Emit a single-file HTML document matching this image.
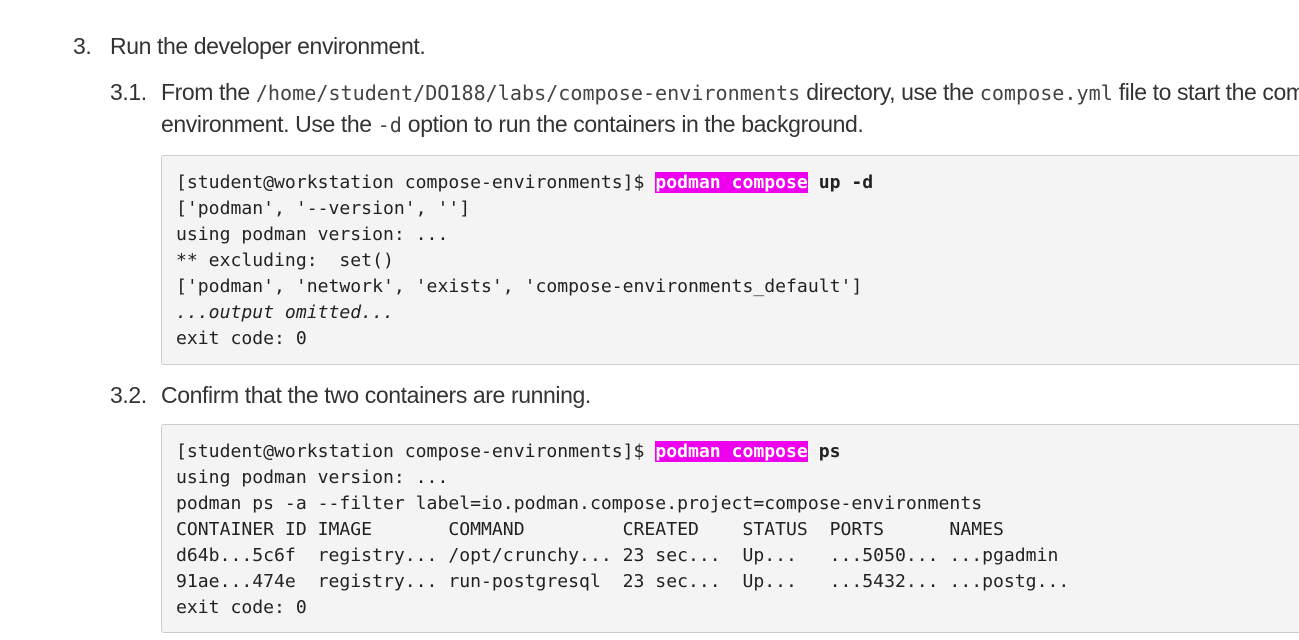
<!DOCTYPE html>
<html><head><meta charset="utf-8"><style>
html,body{margin:0;padding:0;width:1299px;height:640px;overflow:hidden;background:#fff;}
.p{position:absolute;font-family:"Liberation Sans",sans-serif;font-size:23px;color:#333;white-space:nowrap;line-height:32px;letter-spacing:-0.4px}
.p code{font-family:"DejaVu Sans Mono","Liberation Mono",monospace;font-size:20.1px;color:#444;letter-spacing:0}
.box{position:absolute;left:161px;width:1200px;background:#f4f4f4;border:1px solid #ccc;border-radius:3px;box-sizing:border-box;padding:14px 0 0 14px;}
pre{margin:0;font-family:"DejaVu Sans Mono","Liberation Mono",monospace;font-size:18.1px;line-height:26px;color:#222;}
.hl{background:#ee00ee;color:#fff;font-weight:bold}
b{font-weight:bold}
</style></head><body>
<div class="p" style="left:73px;top:30px">3.</div>
<div class="p" style="left:110px;top:30px">Run the developer environment.</div>
<div class="p" style="left:110px;top:76px">3.1.</div>
<div class="p" style="left:161px;top:76px">From the <code>/home/student/DO188/labs/compose-environments</code> directory, use the <code>compose.yml</code> file to start the compose</div>
<div class="p" style="left:161px;top:108px">environment. Use the <code>-d</code> option to run the containers in the background.</div>
<div class="box" style="top:155px;height:210px"><pre>[student@workstation compose-environments]$ <span class="hl">podman compose</span> <b>up -d</b>
['podman', '--version', '']
using podman version: ...
** excluding:  set()
['podman', 'network', 'exists', 'compose-environments_default']
<i>...output omitted...</i>
exit code: 0</pre></div>
<div class="p" style="left:110px;top:379px">3.2.</div>
<div class="p" style="left:161px;top:379px">Confirm that the two containers are running.</div>
<div class="box" style="top:424px;height:209px"><pre>[student@workstation compose-environments]$ <span class="hl">podman compose</span> <b>ps</b>
using podman version: ...
podman ps -a --filter label=io.podman.compose.project=compose-environments
CONTAINER ID IMAGE       COMMAND         CREATED    STATUS  PORTS      NAMES
d64b...5c6f  registry... /opt/crunchy... 23 sec...  Up...   ...5050... ...pgadmin
91ae...474e  registry... run-postgresql  23 sec...  Up...   ...5432... ...postg...
exit code: 0</pre></div>
</body></html>
